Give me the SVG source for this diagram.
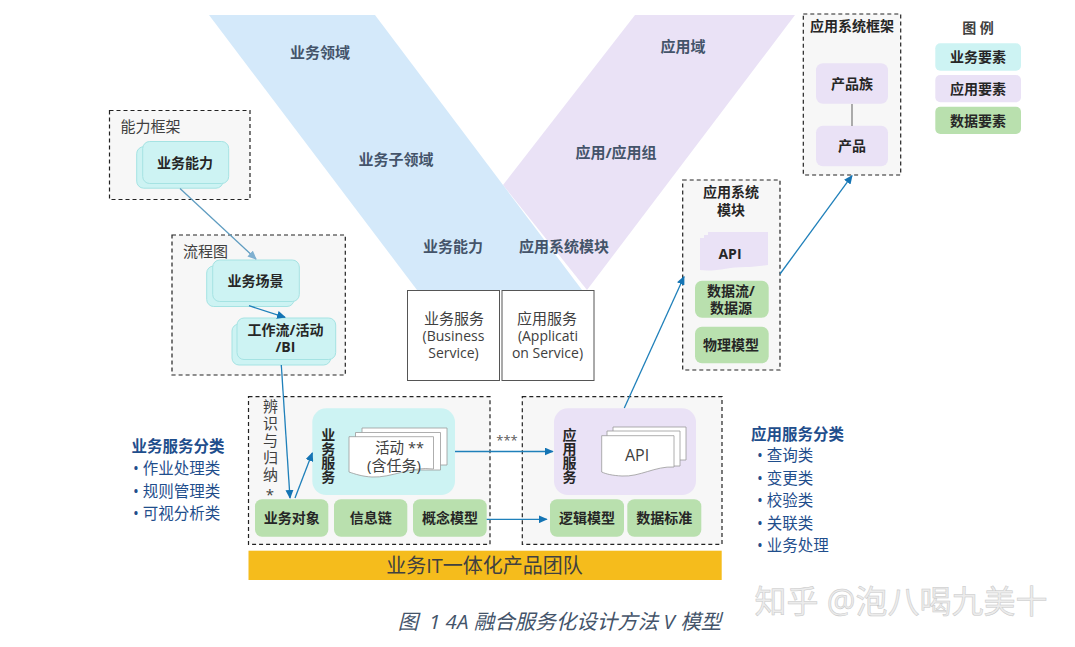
<svg xmlns="http://www.w3.org/2000/svg" width="1075" height="647" viewBox="0 0 1075 647">
<style>
text{font-family:"Open Sans","Noto Sans CJK SC",sans-serif;text-anchor:middle;fill:#404040}
.b{font-weight:700;font-size:14px;fill:#262626}
.h{font-weight:700;font-size:15px;fill:#44546a}
.r{font-size:14px;fill:#404040}
.cjk{font-size:15px}
.cat{font-weight:700;font-size:15.500px;fill:#1f4e8c}
.li{font-size:15.500px;fill:#1f4e8c;text-anchor:start}
.vert{writing-mode:vertical-rl;text-orientation:upright}
.frame{fill:#f7f7f7;stroke:#222;stroke-width:1.200;stroke-dasharray:4 3}
.biz{fill:#cdf3f3;stroke:#a5e3e3;stroke-width:1}
.bizp{fill:#cdf3f3}
.app{fill:#eae2f6}
.dat{fill:#b9e0ae}
.doc{fill:#fff;stroke:#999;stroke-width:.800}
.sb{fill:#fff;stroke:#555;stroke-width:1}
.ln{fill:none;stroke:#1f80ba;stroke-width:1.300}
</style>
<defs>
<marker id="arr" markerWidth="9" markerHeight="8" refX="8" refY="4" orient="auto" markerUnits="userSpaceOnUse"><path d="M0 0L9 4L0 8Z" fill="#1474b4"/></marker>
<marker id="arrL" markerWidth="9" markerHeight="8" refX="8" refY="4" orient="auto" markerUnits="userSpaceOnUse"><path d="M0 0L9 4L0 8Z" fill="#7fb0d0"/></marker>
</defs>

<g id="v-shape">
<polygon points="635,15 795,15 587,290 503,185" fill="#eae2f6"/>
<polygon points="209,15 375,15 582,290 417,290" fill="#d4e9fa"/>
<text class="h" x="320" y="58">业务领域</text>
<text class="h" x="396" y="165">业务子领域</text>
<text class="h" x="453" y="252">业务能力</text>
<text class="h" x="683" y="52">应用域</text>
<text class="h" x="616" y="158">应用/应用组</text>
<text class="h" x="564" y="252">应用系统模块</text>
</g>

<g id="capability-frame">
<rect class="frame" x="109.500" y="110.500" width="140.500" height="89"/>
<text x="150.500" y="132" style="font-size:15px">能力框架</text>
<rect class="biz" x="136.700" y="146.700" width="86.300" height="41.500" rx="7"/>
<rect class="biz" x="142.700" y="141.500" width="86" height="42" rx="7"/>
<text class="b" x="185" y="168">业务能力</text>
</g>

<g id="process-frame">
<rect class="frame" x="172" y="235" width="173.300" height="140"/>
<text x="205.500" y="257" style="font-size:15px">流程图</text>
<rect class="biz" x="206.700" y="266" width="87.300" height="40.500" rx="7"/>
<rect class="biz" x="212.700" y="260" width="86.600" height="41.500" rx="7"/>
<text class="b" x="255.500" y="286">业务场景</text>
<rect class="biz" x="232" y="324" width="98.700" height="41" rx="7"/>
<rect class="biz" x="237" y="318" width="98.700" height="41.500" rx="7"/>
<text class="b" x="285.500"><tspan x="285.500" y="335">工作流/活动</tspan><tspan x="285.500" y="352">/BI</tspan></text>
</g>

<g id="business-frame">
<rect class="frame" x="248.500" y="396.700" width="241.500" height="147.600"/>
<text class="vert" x="270" y="452" style="font-size:15px;letter-spacing:2px">辨识与归纳*</text>
<rect class="bizp" x="312.300" y="408.300" width="142.700" height="86.700" rx="14"/>
<text class="b vert" x="327.700" y="455.500">业务服务</text>
<path class="doc" d="M362 428H447V465H362Z"/>
<path class="doc" d="M355.500 432.500H440.500V470H355.500Z"/>
<path class="doc" d="M349 436.700H433.500V469C411 466 392 478 372 477C362 476.500 355 474 349 472Z"/>
<text class="cjk"><tspan x="399.500" y="453" style="font-size:14.500px">活动 **</tspan><tspan x="394" y="471">(含任务)</tspan></text>
<rect class="dat" x="255" y="499.300" width="73.300" height="37.400" rx="7"/>
<text class="b" x="291.700" y="523">业务对象</text>
<rect class="dat" x="334" y="499.300" width="73.300" height="37.400" rx="7"/>
<text class="b" x="370.700" y="523">信息链</text>
<rect class="dat" x="413" y="499.300" width="73.700" height="37.400" rx="7"/>
<text class="b" x="450" y="523">概念模型</text>
</g>

<g id="application-frame">
<rect class="frame" x="522.300" y="396.700" width="199.700" height="147.600"/>
<rect class="app" x="554" y="408.300" width="142" height="86.700" rx="14"/>
<text class="b vert" x="569" y="455.500">应用服务</text>
<path class="doc" d="M613 427H686V460H613Z"/>
<path class="doc" d="M607 431H680V466H607Z"/>
<path class="doc" d="M601.700 435.700H674V467C655 466 640 477 622 476C612 475.500 606 474 601.700 472Z"/>
<text x="637" y="461" style="font-size:16px">API</text>
<rect class="dat" x="550" y="499.300" width="74" height="37.400" rx="7"/>
<text class="b" x="587" y="523">逻辑模型</text>
<rect class="dat" x="627.300" y="499.300" width="74" height="37.400" rx="7"/>
<text class="b" x="664.300" y="523">数据标准</text>
</g>

<g id="team-bar">
<rect x="248.500" y="550.700" width="473.200" height="29.300" fill="#f5bc1c"/>
<text x="484.500" y="572.500" style="font-size:20px;fill:#404040">业务IT一体化产品团队</text>
</g>

<g id="service-boxes">
<g id="business-service"><rect class="sb" x="407.500" y="290.500" width="92" height="90"/>
<text class="r"><tspan class="cjk" x="454" y="324">业务服务</tspan><tspan x="453.500" y="341">(Business</tspan><tspan x="453.500" y="358">Service)</tspan></text></g>
<g id="application-service"><rect class="sb" x="502" y="290.500" width="92" height="90"/>
<text class="r"><tspan class="cjk" x="547" y="324">应用服务</tspan><tspan x="548" y="341">(Applicati</tspan><tspan x="547.500" y="358">on Service)</tspan></text></g>
</g>

<g id="module-frame">
<rect class="frame" x="682.700" y="180" width="97.300" height="190"/>
<text class="b"><tspan x="731" y="197">应用系统</tspan><tspan x="731" y="215">模块</tspan></text>
<path class="app" d="M708 232H768V265L750 267C730 266 718 272 700 270V238H704V235H708Z"/>
<text class="b" x="730" y="259">API</text>
<rect class="dat" x="695" y="280.700" width="73.700" height="37" rx="7"/>
<text class="b"><tspan x="731" y="296">数据流/</tspan><tspan x="731" y="313">数据源</tspan></text>
<rect class="dat" x="695" y="326.700" width="73.700" height="36.600" rx="7"/>
<text class="b" x="731" y="350">物理模型</text>
</g>

<g id="system-frame">
<rect class="frame" x="803.300" y="14" width="97.400" height="161"/>
<text class="b" x="852" y="31">应用系统框架</text>
<rect class="app" x="816" y="63.300" width="72" height="40.400" rx="7"/>
<text class="b" x="852" y="89">产品族</text>
<rect class="app" x="816" y="125.700" width="72" height="40.600" rx="7"/>
<text class="b" x="852" y="151">产品</text>
</g>

<g id="legend">
<text x="978" y="33" style="font-size:14px;font-weight:700">图 例</text>
<rect class="bizp" x="935.300" y="43.300" width="85.700" height="27.400" rx="5"/>
<text class="b" x="978" y="62">业务要素</text>
<rect class="app" x="935.300" y="75" width="85.700" height="27.300" rx="5"/>
<text class="b" x="978" y="94">应用要素</text>
<rect class="dat" x="935.300" y="106.700" width="85.700" height="27.300" rx="5"/>
<text class="b" x="978" y="126">数据要素</text>
</g>

<g id="connectors">
<path class="ln" d="M180 188.500L256 259" style="stroke:#5f9cc0" marker-end="url(#arrL)"/>
<path class="ln" d="M249 305.700L285 317.300" marker-end="url(#arr)"/>
<path class="ln" d="M281.300 365L290 498" marker-end="url(#arr)"/>
<path class="ln" d="M295 498L312.300 453" marker-end="url(#arr)"/>
<path class="ln" d="M455 451.500H552.700" marker-end="url(#arr)"/>
<path class="ln" d="M486.700 519.300H546.700" marker-end="url(#arr)"/>
<path class="ln" d="M624.300 408L684 276.700" marker-end="url(#arr)"/>
<path class="ln" d="M780 274L852 175.700" marker-end="url(#arr)"/>
<path d="M852 104V126" fill="none" stroke="#777" stroke-width="1.200"/>
</g>
<text x="507" y="445" style="font-size:13px;fill:#595959">***</text>

<g id="business-categories">
<text class="cat" x="178" y="452">业务服务分类</text>
<text class="li" x="133" y="474">• 作业处理类</text>
<text class="li" x="133" y="497">• 规则管理类</text>
<text class="li" x="133" y="519">• 可视分析类</text>
</g>
<g id="application-categories">
<text class="cat" x="797.500" y="440">应用服务分类</text>
<text class="li" x="757" y="461">• 查询类</text>
<text class="li" x="757" y="484">• 变更类</text>
<text class="li" x="757" y="506">• 校验类</text>
<text class="li" x="757" y="529">• 关联类</text>
<text class="li" x="757" y="551">• 业务处理</text>
</g>

<text x="559.500" y="629" style="font-size:20.500px;font-style:italic;fill:#44546a" xml:space="preserve">图  1 4A 融合服务化设计方法 V 模型</text>
<text x="901" y="613" style="font-size:32px;fill:#ececec;stroke:#c8c8c8;stroke-width:.500">知乎 @泡八喝九美十</text>
</svg>
